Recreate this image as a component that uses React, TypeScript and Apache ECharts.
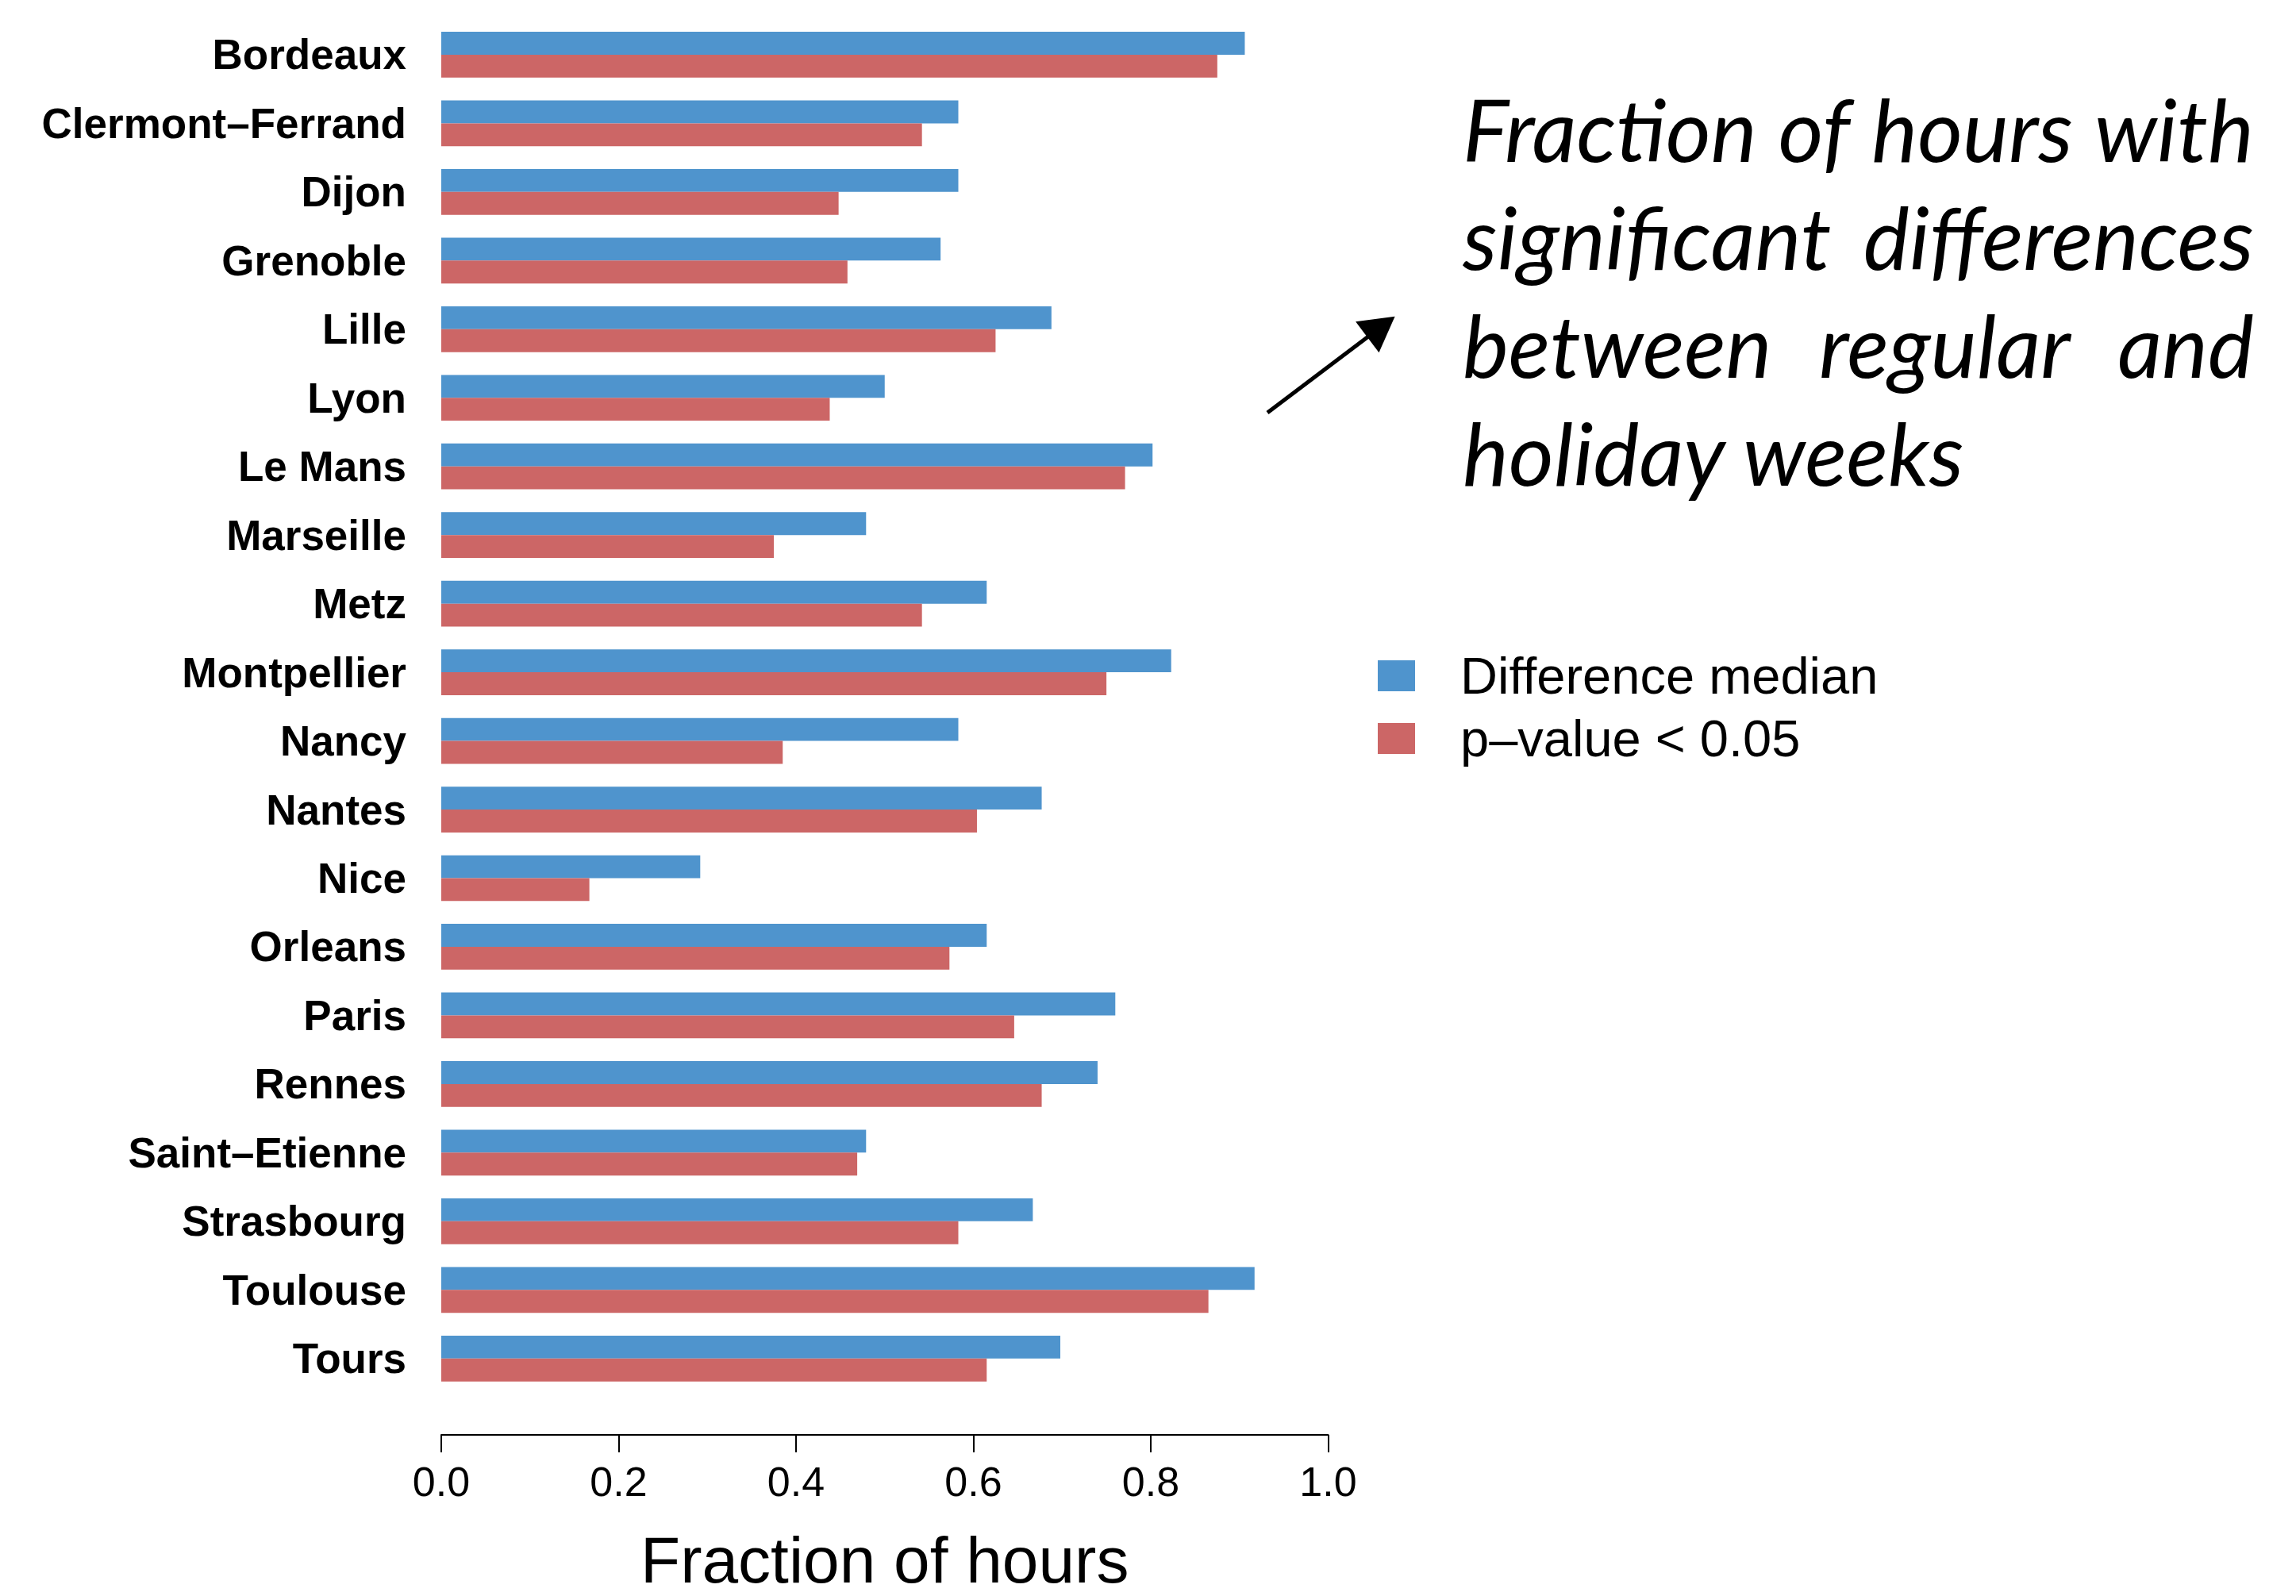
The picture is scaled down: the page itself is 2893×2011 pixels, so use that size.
import React, { useEffect, useRef } from "react";
import * as echarts from "echarts";

const cities = [
  "Bordeaux", "Clermont–Ferrand", "Dijon", "Grenoble", "Lille", "Lyon", "Le Mans",
  "Marseille", "Metz", "Montpellier", "Nancy", "Nantes", "Nice", "Orleans", "Paris",
  "Rennes", "Saint–Etienne", "Strasbourg", "Toulouse", "Tours",
];
const diffMedian = [
  0.906, 0.583, 0.583, 0.563, 0.688, 0.500, 0.802, 0.479, 0.615, 0.823,
  0.583, 0.677, 0.292, 0.615, 0.760, 0.740, 0.479, 0.667, 0.917, 0.698,
];
const pValue = [
  0.875, 0.542, 0.448, 0.458, 0.625, 0.438, 0.771, 0.375, 0.542, 0.750,
  0.385, 0.604, 0.167, 0.573, 0.646, 0.677, 0.469, 0.583, 0.865, 0.615,
];
const seriesNames = ["Difference median", "p–value < 0.05"];
const seriesColors = ["#4F94CD", "#CC6666"];
const xAxisTitle = "Fraction of hours";
const titleLines = [
  "Fraction of hours with",
  "significant differences",
  "between regular and",
  "holiday weeks",
];

const W = 2893;
const H = 2011;

function buildTitleGraphics() {
  const left = 1843;
  const right = 2840;
  const baselines = [204, 340, 476, 612];
  const capTarget = 78.5;
  const family = "Lato";
  const canvas = document.createElement("canvas");
  const ctx = canvas.getContext("2d") as CanvasRenderingContext2D;
  const measure = (t: string, fs: number) => {
    ctx.font = `italic 400 ${fs}px ${family}`;
    return ctx.measureText(t).width;
  };
  const w0 = measure(titleLines[0], 100);
  const w1 = measure(titleLines[1], 100);
  const fs = Math.min((100 * 993) / w0, (100 * 997) / w1);
  const sy = capTarget / (0.7165 * fs);
  const central = 0.387 * fs * sy;
  const els: any[] = [];
  titleLines.forEach((line, i) => {
    const yb = baselines[i];
    const words = line.split(" ");
    const justify = i < titleLines.length - 1;
    if (!justify) {
      els.push({
        type: "text",
        x: left,
        y: yb - central,
        scaleY: sy,
        style: {
          text: line,
          font: `italic 400 ${fs}px ${family}`,
          fill: "#000",
          align: "left",
          verticalAlign: "middle",
        },
      });
      return;
    }
    const widths = words.map((w) => measure(w, fs));
    const total = widths.reduce((a, b) => a + b, 0);
    const gap = (right - left - total) / (words.length - 1);
    let x = left;
    words.forEach((w, j) => {
      els.push({
        type: "text",
        x,
        y: yb - central,
        scaleY: sy,
        style: {
          text: w,
          font: `italic 400 ${fs}px ${family}`,
          fill: "#000",
          align: "left",
          verticalAlign: "middle",
        },
      });
      x += widths[j] + gap;
    });
  });
  return els;
}

export default function App() {
  const ref = useRef<HTMLDivElement>(null);
  useEffect(() => {
    if (!ref.current) return;
    const chart = echarts.init(ref.current, undefined, { renderer: "svg", width: W, height: H });
    const font = "'Liberation Sans', Arial, Helvetica, sans-serif";
    const option: any = {
      animation: false,
      backgroundColor: "#ffffff",
      grid: { left: 556, top: 25.7, width: 1117.5, height: 1731.4, containLabel: false },
      xAxis: {
        type: "value",
        min: 0,
        max: 1,
        interval: 0.2,
        position: "bottom",
        offset: 53,
        axisLine: { show: true, lineStyle: { color: "#000", width: 2 } },
        axisTick: { show: true, length: 22, lineStyle: { color: "#000", width: 2 } },
        splitLine: { show: false },
        axisLabel: {
          margin: 33,
          fontSize: 52,
          fontFamily: font,
          color: "#000",
          formatter: (v: number) => v.toFixed(1),
        },
        name: xAxisTitle,
        nameLocation: "middle",
        nameGap: 116,
        nameTextStyle: { fontSize: 82, fontFamily: font, color: "#000" },
      },
      yAxis: {
        type: "category",
        data: cities,
        inverse: true,
        axisLine: { show: false },
        axisTick: { show: false },
        splitLine: { show: false },
        axisLabel: {
          margin: 44,
          fontSize: 53,
          fontWeight: "bold",
          fontFamily: font,
          color: "#000",
          interval: 0,
        },
      },
      legend: {
        orient: "vertical",
        left: 1736,
        top: 819,
        padding: 0,
        itemWidth: 47,
        itemHeight: 39,
        itemGap: 14,
        icon: "rect",
        data: seriesNames,
        textStyle: {
          fontSize: 65,
          fontFamily: font,
          color: "#000",
          padding: [0, 0, 0, 52],
        },
      },
      series: [
        {
          name: seriesNames[0],
          type: "bar",
          data: diffMedian,
          barWidth: 28.86,
          barGap: "0%",
          itemStyle: { color: seriesColors[0] },
        },
        {
          name: seriesNames[1],
          type: "bar",
          data: pValue,
          barWidth: 28.86,
          barGap: "0%",
          itemStyle: { color: seriesColors[1] },
        },
      ],
      graphic: [
        ...buildTitleGraphics(),
        {
          type: "line",
          shape: { x1: 1597, y1: 520, x2: 1740, y2: 412 },
          style: { stroke: "#000", lineWidth: 5 },
        },
        {
          type: "polygon",
          shape: { points: [[1757.6, 398.8], [1708.1, 405.3], [1737.5, 444.3]] },
          style: { fill: "#000" },
        },
      ],
    };
    chart.setOption(option);
    return () => chart.dispose();
  }, []);
  return (
    <div
      ref={ref}
      style={{ position: "fixed", left: 0, top: 0, width: W, height: H, background: "#fff" }}
    />
  );
}
